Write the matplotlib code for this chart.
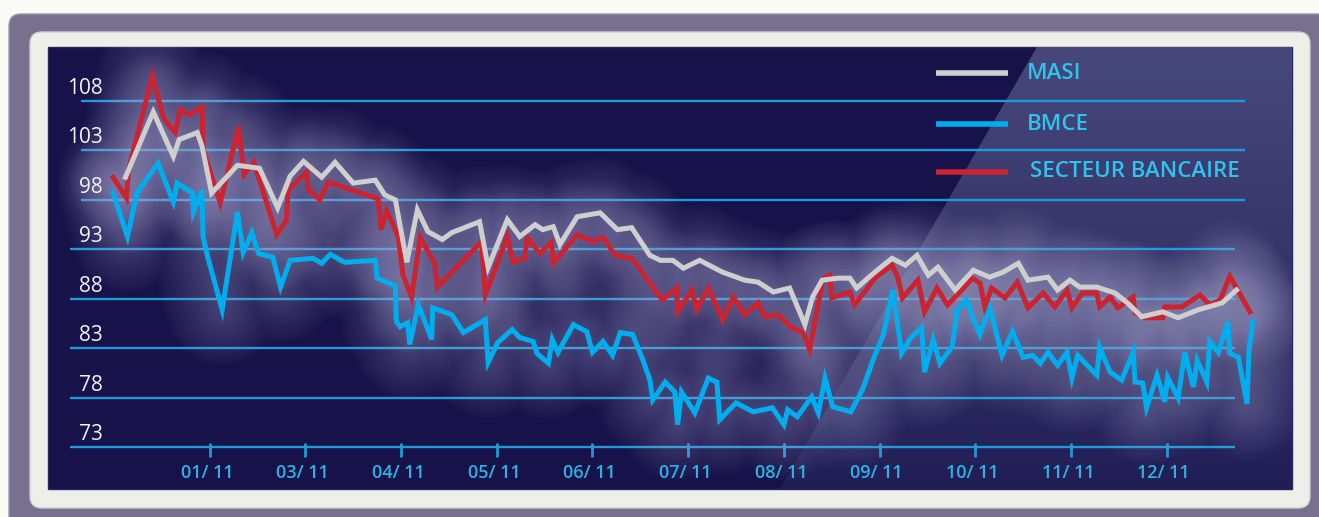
import matplotlib
matplotlib.use("Agg")
import matplotlib.pyplot as plt
import numpy as np
from matplotlib.patches import FancyBboxPatch, Rectangle, Polygon
from matplotlib.colors import LinearSegmentedColormap

# x = months (tick "01/ 11" = 1), values = index base 100
masi_x = [0.12, 0.41, 0.62, 0.68, 0.87, 0.92, 1.02, 1.29, 1.52, 1.71, 1.84, 1.98, 2.17, 2.31, 2.50,
          2.73, 2.83, 2.94, 3.06, 3.17, 3.28, 3.43, 3.53, 3.82, 3.91, 4.11, 4.24, 4.40, 4.48, 4.59,
          4.66, 4.84, 5.08, 5.26, 5.41, 5.60, 5.71, 5.84, 5.95, 6.12, 6.36, 6.59, 6.73, 6.89, 7.06,
          7.22, 7.30, 7.40, 7.57, 7.69, 7.76, 7.95, 8.13, 8.27, 8.39, 8.51, 8.61, 8.79, 8.98, 9.15,
          9.29, 9.45, 9.55, 9.76, 9.86, 9.99, 10.09, 10.27, 10.46, 10.59, 10.74, 10.96, 11.12,
          11.33, 11.58, 11.73]
masi_v = [100.3, 106.9, 102.4, 104.1, 104.8, 103.4, 98.7, 101.5, 101.2, 97.2, 100.4, 101.9, 100.3,
          101.8, 99.7, 100.0, 98.5, 98.0, 91.7, 97.0, 94.8, 94.0, 94.7, 95.8, 91.2, 96.0, 94.3, 95.5,
          95.0, 95.3, 93.5, 96.3, 96.7, 95.0, 95.2, 92.4, 91.9, 91.9, 91.1, 91.9, 90.7, 89.9, 89.7,
          88.7, 89.1, 85.4, 88.2, 89.9, 90.1, 90.1, 89.1, 90.7, 92.1, 91.4, 92.4, 90.4, 91.2, 88.9,
          90.9, 90.2, 90.7, 91.6, 89.9, 90.2, 88.9, 89.9, 89.2, 89.2, 88.6, 87.6, 86.2, 86.7, 86.1,
          86.9, 87.6, 88.9]

sect_x = [-0.01, 0.13, 0.15, 0.40, 0.52, 0.64, 0.69, 0.79, 0.92, 0.93, 1.11, 1.30, 1.36, 1.46, 1.70,
          1.80, 1.82, 2.01, 2.03, 2.15, 2.24, 2.76, 2.79, 2.85, 2.97, 3.02, 3.11, 3.20, 3.35, 3.38,
          3.84, 3.88, 4.11, 4.17, 4.29, 4.32, 4.45, 4.57, 4.59, 4.84, 5.00, 5.11, 5.24, 5.41, 5.73,
          5.88, 5.89, 6.04, 6.09, 6.21, 6.36, 6.47, 6.59, 6.73, 6.80, 6.94, 7.08, 7.20, 7.27, 7.41,
          7.48, 7.50, 7.69, 7.74, 7.95, 8.13, 8.19, 8.24, 8.40, 8.47, 8.60, 8.71, 8.86, 8.97, 9.05,
          9.10, 9.17, 9.31, 9.44, 9.55, 9.71, 9.83, 9.96, 10.01, 10.12, 10.27, 10.30, 10.41, 10.49,
          10.65, 10.67, 10.77, 10.96, 10.98, 11.16, 11.35, 11.45, 11.56, 11.66, 11.87]
sect_v = [100.3, 98.2, 101.0, 110.5, 106.2, 104.8, 107.1, 106.6, 107.4, 103.1, 97.7, 105.4, 100.6,
          101.8, 94.5, 95.9, 99.0, 100.8, 99.1, 98.0, 99.8, 98.1, 95.0, 96.9, 94.3, 90.4, 88.2, 94.2,
          91.6, 89.2, 93.8, 88.4, 94.3, 91.7, 92.1, 94.2, 92.6, 93.7, 91.6, 94.5, 93.8, 94.2, 92.4,
          92.1, 87.9, 89.1, 86.7, 88.9, 86.9, 89.1, 85.9, 88.2, 86.4, 87.6, 86.2, 86.4, 85.1, 84.6,
          82.9, 90.1, 90.4, 88.1, 88.7, 87.4, 90.1, 91.4, 90.2, 88.1, 89.9, 86.7, 89.1, 87.4, 88.9,
          90.1, 89.6, 87.2, 89.1, 88.1, 89.7, 87.1, 88.6, 87.2, 88.9, 87.1, 88.6, 88.6, 87.2, 88.2,
          87.1, 88.2, 86.6, 86.1, 86.1, 87.2, 87.2, 88.4, 87.4, 87.9, 90.3, 86.7]

bmce_x = [-0.01, 0.14, 0.24, 0.46, 0.62, 0.66, 0.82, 0.83, 0.92, 0.93, 0.98, 1.13, 1.29, 1.35, 1.44,
          1.51, 1.66, 1.74, 1.84, 2.08, 2.17, 2.26, 2.41, 2.73, 2.75, 2.94, 2.95, 2.99, 3.07, 3.09,
          3.18, 3.32, 3.33, 3.53, 3.65, 3.88, 3.91, 4.01, 4.16, 4.24, 4.38, 4.42, 4.54, 4.58, 4.64,
          4.80, 4.94, 5.00, 5.11, 5.21, 5.29, 5.42, 5.52, 5.60, 5.63, 5.76, 5.86, 5.89, 5.93, 6.07,
          6.21, 6.30, 6.33, 6.50, 6.68, 6.88, 7.00, 7.04, 7.14, 7.29, 7.36, 7.43, 7.51, 7.70, 7.82,
          7.95, 8.04, 8.14, 8.23, 8.32, 8.44, 8.47, 8.56, 8.63, 8.76, 8.81, 8.91, 8.98, 9.05, 9.15,
          9.28, 9.39, 9.50, 9.60, 9.68, 9.76, 9.86, 9.96, 10.01, 10.07, 10.27, 10.30, 10.41, 10.53,
          10.65, 10.67, 10.75, 10.79, 10.90, 10.98, 11.01, 11.12, 11.19, 11.28, 11.32, 11.42, 11.45,
          11.54, 11.64, 11.66, 11.75, 11.84, 11.86, 11.90]
bmce_v = [98.7, 94.3, 98.7, 101.7, 97.8, 99.7, 98.7, 96.8, 99.0, 94.3, 92.2, 86.9, 96.8, 92.7, 94.7,
          92.6, 92.2, 89.2, 91.9, 92.1, 91.6, 92.5, 91.7, 91.9, 90.1, 89.3, 85.7, 85.2, 85.6, 83.4,
          87.4, 83.9, 87.1, 86.4, 84.6, 85.9, 81.6, 83.6, 84.9, 84.1, 83.7, 82.5, 81.5, 83.9, 82.6,
          85.4, 84.7, 82.6, 83.7, 82.3, 84.6, 84.4, 82.0, 79.8, 77.8, 79.6, 78.6, 75.3, 78.6, 76.5,
          80.0, 79.6, 75.8, 77.5, 76.6, 77.0, 75.3, 76.8, 76.1, 78.1, 76.5, 80.0, 77.1, 76.6, 78.8,
          82.3, 84.4, 88.9, 82.5, 84.0, 85.1, 80.6, 83.9, 81.5, 83.2, 86.9, 87.9, 85.9, 84.4, 87.2,
          82.3, 84.7, 82.1, 82.3, 81.5, 82.6, 81.3, 82.6, 80.0, 82.3, 80.3, 83.1, 80.6, 79.8, 82.6,
          79.6, 79.5, 77.0, 80.3, 77.6, 80.1, 78.0, 82.6, 79.1, 81.8, 79.6, 83.7, 82.6, 85.7, 82.5,
          82.1, 77.4, 82.8, 85.7]

y_levels = [108, 103, 98, 93, 88, 83, 78, 73]
month_pos = [1, 2, 3, 4, 5, 6, 7, 8, 9, 10, 11]
month_labels = ["01/ 11", "03/ 11", "04/ 11", "05/ 11", "06/ 11", "07/ 11",
                "08/ 11", "09/ 11", "10/ 11", "11/ 11", "12/ 11"]

series = [
    ("BMCE", bmce_x, bmce_v, "#00aeef"),
    ("SECTEUR BANCAIRE", sect_x, sect_v, "#cc2331"),
    ("MASI", masi_x, masi_v, "#cfcfcf"),
]

plt.rcParams["font.family"] = ["Open Sans", "DejaVu Sans"]

W, H = 1319, 517
fig = plt.figure(figsize=(W / 100, H / 100), dpi=100)
fig.patch.set_facecolor("#fbfbf6")

# background frame drawn in pixel coords
bg = fig.add_axes([0, 0, 1, 1])
bg.set_xlim(0, W)
bg.set_ylim(H, 0)
bg.axis("off")
bg.add_patch(FancyBboxPatch((9, 14), 1340, 540, boxstyle="round,pad=0,rounding_size=12",
                            fc="#77708f", ec="#9a96ad", lw=1))
bg.add_patch(FancyBboxPatch((30, 32), 1280, 476, boxstyle="round,pad=0,rounding_size=12",
                            fc="#efefe9", ec="#cfcfd6", lw=1))
bg.add_patch(Rectangle((48, 47), 1244, 442, fc="#17124a", ec="#2a2560", lw=1))

# lighter diagonal area top right (soft)
light = Polygon([(1037, 47), (1292, 47), (1292, 489), (780, 489)], closed=True,
                fc="none", ec="none")
bg.add_patch(light)
cm = LinearSegmentedColormap.from_list("pan", ["#4a4b7e", "#37376b", "#221f57"])
grad = np.linspace(0, 1, 256)[:, None] * np.ones((1, 16))
im = bg.imshow(grad, cmap=cm, extent=(780, 1292, 489, 47), origin="upper",
               aspect="auto", zorder=1, alpha=0.95)
im.set_clip_path(light)
bg.set_xlim(0, W)
bg.set_ylim(H, 0)

# chart axes over the panel
ax = fig.add_axes([48 / W, 1 - 489 / H, 1244 / W, 442 / H])
ax.set_facecolor("none")
ax.set_xlim(-0.69, 12.31)
ax.set_ylim(68.8, 113.45)
ax.axis("off")

grid_col = "#1e9ad6"
for v in y_levels:
    x0 = -0.35 if v >= 98 else -0.46
    x1 = 11.82 if v >= 98 else 11.71
    ax.hlines(v, x0, x1, color=grid_col, lw=1.7, zorder=2)
    ax.text(-0.12, v + 1.3, str(v), color="#f2f2f2", fontsize=15,
            ha="right", va="center", zorder=6)

ax.vlines(month_pos, 72.05, 73.45, color=grid_col, lw=2, zorder=2)
for p, lab in zip(month_pos, month_labels):
    ax.text(p - 0.03, 70.4, lab, color="#2ab4e6", fontsize=13, fontweight="semibold",
            ha="center", va="center", zorder=6)

# soft glow under the lines
glow_widths = np.linspace(80, 8, 14)
for name, xs, vs, col in series:
    for lw in glow_widths:
        ax.plot(xs, vs, color="#c9c7ee", lw=lw, alpha=0.022, solid_joinstyle="round",
                solid_capstyle="round", zorder=3)

for name, xs, vs, col in series:
    ax.plot(xs, vs, color=col, lw=3.6, solid_joinstyle="miter", zorder=4)

# legend
legend_rows = [("MASI", "#cfcfcf", 0.941, 0.787), ("BMCE", "#00aeef", 0.825, 0.787),
               ("SECTEUR BANCAIRE", "#cc2331", 0.718, 0.789)]
for name, col, yy, tx in legend_rows:
    ax.plot([0.714, 0.772], [yy, yy], color=col, lw=4, transform=ax.transAxes,
            solid_capstyle="butt", zorder=6)
    ax.text(tx, yy, name, color="#2ec4ee", fontsize=16, fontweight="semibold",
            transform=ax.transAxes, ha="left", va="center", zorder=6)

fig.savefig("out.png", dpi=100, facecolor=fig.get_facecolor())
